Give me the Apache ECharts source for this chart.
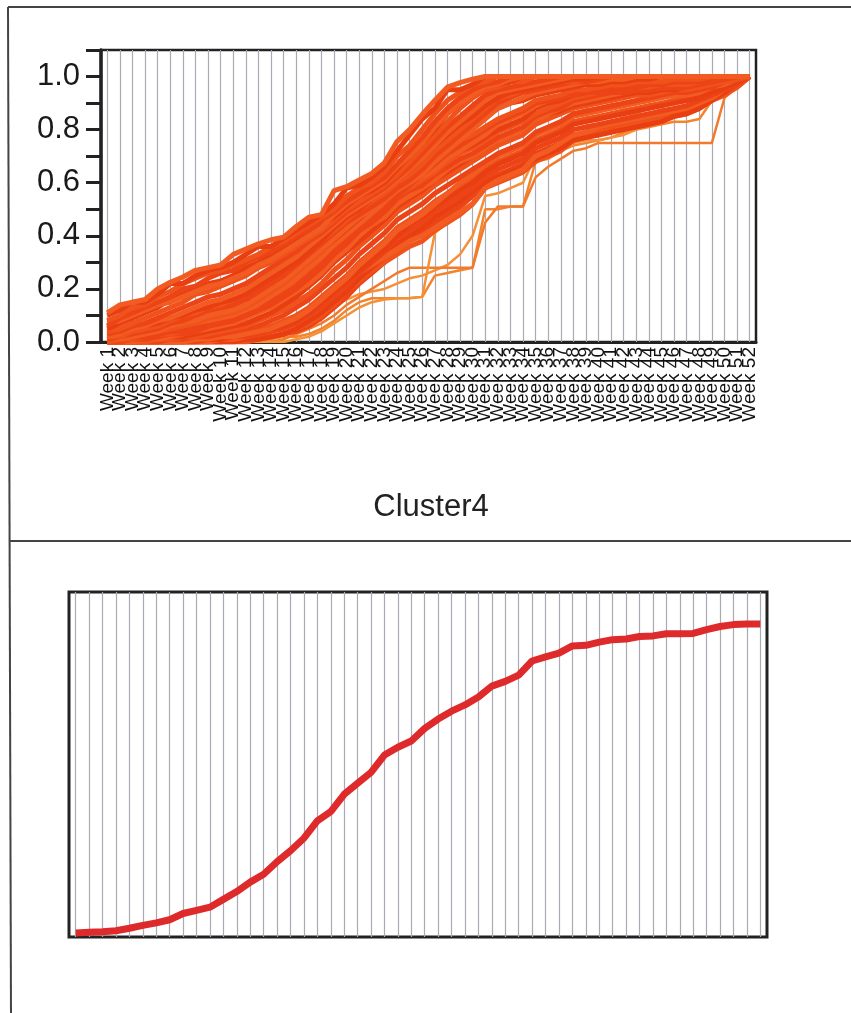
<!DOCTYPE html>
<html>
<head>
<meta charset="utf-8">
<title>Cluster4</title>
<script src="https://cdn.jsdelivr.net/npm/echarts@6/dist/echarts.min.js"></script>
<style>
  html, body { margin: 0; padding: 0; background: #fff; }
  #chart { width: 851px; height: 1013px; }
</style>
</head>
<body>
<div id="chart"></div>
<script>
var weeks = ['Week 1','Week 2','Week 3','Week 4','Week 5','Week 6','Week 7','Week 8','Week 9','Week 10',
  'Week 11','Week 12','Week 13','Week 14','Week 15','Week 16','Week 17','Week 18','Week 19','Week 20',
  'Week 21','Week 22','Week 23','Week 24','Week 25','Week 26','Week 27','Week 28','Week 29','Week 30',
  'Week 31','Week 32','Week 33','Week 34','Week 35','Week 36','Week 37','Week 38','Week 39','Week 40',
  'Week 41','Week 42','Week 43','Week 44','Week 45','Week 46','Week 47','Week 48','Week 49','Week 50',
  'Week 51','Week 52'];

// cluster members (top panel)
var a1 = [0.11,0.14,0.15,0.16,0.20,0.225,0.245,0.27,0.28,0.29,
  0.33,0.35,0.37,0.385,0.395,0.435,0.47,0.48,0.57,0.585,
  0.61,0.635,0.675,0.755,0.80,0.857,0.91,0.96,0.977,0.99,
  1,1,1,1,1,1,1,1,1,1, 1,1,1,1,1,1,1,1,1,1, 1,1];
var a2 = [0.10,0.12,0.15,0.15,0.18,0.22,0.22,0.25,0.27,0.28,
  0.30,0.33,0.36,0.36,0.39,0.42,0.45,0.48,0.52,0.58,
  0.59,0.62,0.66,0.72,0.78,0.84,0.88,0.95,0.95,0.97,
  1,1,1,1,1,1,1,1,1,1, 1,1,1,1,1,1,1,1,1,1, 1,1];
var a3 = [0.08,0.10,0.13,0.14,0.17,0.19,0.22,0.24,0.26,0.27,
  0.29,0.31,0.33,0.36,0.38,0.41,0.44,0.47,0.50,0.55,
  0.58,0.60,0.64,0.70,0.74,0.80,0.86,0.91,0.94,0.97,
  0.98,1,1,1,1,1,1,1,1,1, 1,1,1,1,1,1,1,1,1,1, 1,1];
var a4 = [0.06,0.09,0.11,0.13,0.15,0.17,0.20,0.21,0.24,0.26,
  0.27,0.30,0.32,0.34,0.37,0.40,0.42,0.46,0.49,0.53,
  0.56,0.59,0.62,0.67,0.72,0.77,0.83,0.88,0.92,0.95,
  0.97,0.98,1,1,1,1,1,1,1,1, 1,1,1,1,1,1,1,1,1,1, 1,1];
var a5 = [0.05,0.07,0.09,0.11,0.13,0.16,0.18,0.20,0.22,0.23,
  0.25,0.28,0.30,0.33,0.35,0.38,0.41,0.44,0.47,0.51,
  0.55,0.57,0.60,0.65,0.70,0.75,0.80,0.86,0.90,0.94,
  0.96,0.97,0.98,1,1,1,1,1,1,1, 1,1,1,1,1,1,1,1,1,1, 1,1];
var a6 = [0.04,0.05,0.07,0.09,0.11,0.13,0.15,0.18,0.19,0.21,
  0.23,0.25,0.28,0.30,0.33,0.36,0.39,0.42,0.46,0.50,
  0.53,0.56,0.59,0.63,0.68,0.73,0.78,0.83,0.88,0.92,
  0.95,0.96,0.98,0.98,1,1,1,1,1,1, 1,1,1,1,1,1,1,1,1,1, 1,1];
var b1 = [0.03,0.04,0.06,0.07,0.09,0.11,0.13,0.15,0.17,0.18,
  0.20,0.22,0.25,0.28,0.31,0.34,0.38,0.41,0.45,0.49,
  0.52,0.55,0.58,0.62,0.66,0.71,0.76,0.81,0.85,0.89,
  0.93,0.95,0.96,0.97,0.98,0.99,1,1,1,1, 1,1,1,1,1,1,1,1,1,1, 1,1];
var b2 = [0.02,0.03,0.05,0.06,0.08,0.09,0.11,0.13,0.15,0.16,
  0.18,0.20,0.23,0.26,0.29,0.32,0.36,0.40,0.44,0.48,
  0.51,0.54,0.57,0.61,0.65,0.69,0.74,0.79,0.83,0.87,
  0.91,0.94,0.95,0.96,0.97,0.98,0.99,1,1,1, 1,1,1,1,1,1,1,1,1,1, 1,1];
var b3 = [0.02,0.02,0.04,0.05,0.06,0.08,0.10,0.11,0.13,0.14,
  0.16,0.18,0.21,0.24,0.27,0.30,0.34,0.38,0.42,0.46,
  0.50,0.53,0.56,0.60,0.63,0.67,0.72,0.76,0.80,0.84,
  0.88,0.92,0.93,0.95,0.96,0.97,0.98,0.98,0.99,1, 1,1,1,1,1,1,1,1,1,1, 1,1];
var b4 = [0.01,0.02,0.03,0.04,0.05,0.07,0.08,0.10,0.12,0.13,
  0.14,0.16,0.19,0.22,0.25,0.29,0.33,0.37,0.41,0.45,
  0.48,0.51,0.54,0.58,0.61,0.65,0.70,0.74,0.78,0.82,
  0.86,0.90,0.92,0.94,0.95,0.96,0.97,0.98,0.98,0.99, 1,1,1,1,1,1,1,1,1,1, 1,1];
var b5 = [0.01,0.01,0.02,0.03,0.04,0.06,0.07,0.08,0.10,0.11,
  0.12,0.14,0.17,0.20,0.23,0.27,0.31,0.35,0.39,0.43,
  0.47,0.50,0.53,0.57,0.60,0.63,0.68,0.72,0.76,0.80,
  0.84,0.88,0.90,0.92,0.94,0.95,0.96,0.97,0.98,0.98, 0.99,0.99,1,1,1,1,1,1,1,1, 1,1];
var c1 = [0.01,0.01,0.02,0.02,0.03,0.04,0.05,0.06,0.08,0.09,
  0.10,0.12,0.15,0.18,0.21,0.25,0.29,0.33,0.38,0.41,
  0.46,0.49,0.52,0.57,0.60,0.62,0.66,0.69,0.72,0.74,
  0.77,0.80,0.82,0.84,0.88,0.90,0.91,0.93,0.94,0.95,
  0.95,0.96,0.96,0.97,0.97,0.98,0.98,0.99,0.99,1, 1,1];
var c2 = [0,0.01,0.01,0.02,0.03,0.03,0.04,0.05,0.07,0.08,
  0.09,0.11,0.13,0.16,0.19,0.22,0.26,0.30,0.35,0.39,
  0.43,0.47,0.51,0.55,0.58,0.61,0.64,0.68,0.71,0.73,
  0.76,0.79,0.81,0.83,0.86,0.88,0.90,0.92,0.93,0.94,
  0.95,0.95,0.96,0.96,0.97,0.97,0.97,0.98,0.99,1, 1,1];
var c3 = [0.02,0.02,0.03,0.03,0.04,0.05,0.06,0.07,0.09,0.10,
  0.11,0.13,0.16,0.19,0.22,0.26,0.30,0.34,0.39,0.43,
  0.48,0.51,0.55,0.60,0.63,0.66,0.70,0.73,0.76,0.78,
  0.81,0.84,0.86,0.88,0.91,0.92,0.93,0.95,0.95,0.96,
  0.97,0.97,0.98,0.98,0.98,0.99,0.99,0.99,1,1, 1,1];
var c4 = [0,0,0.01,0.01,0.02,0.03,0.03,0.04,0.06,0.07,
  0.08,0.10,0.12,0.14,0.17,0.20,0.24,0.28,0.33,0.37,
  0.42,0.45,0.49,0.54,0.57,0.59,0.63,0.66,0.69,0.71,
  0.74,0.77,0.79,0.81,0.85,0.87,0.88,0.91,0.92,0.93,
  0.94,0.94,0.95,0.95,0.96,0.96,0.96,0.97,0.98,0.99, 1,1];
var c5 = [0.01,0.02,0.02,0.03,0.04,0.05,0.06,0.07,0.08,0.09,
  0.10,0.12,0.14,0.17,0.20,0.24,0.28,0.32,0.36,0.40,
  0.44,0.48,0.52,0.56,0.59,0.62,0.65,0.69,0.72,0.75,
  0.78,0.82,0.84,0.86,0.89,0.91,0.92,0.94,0.94,0.95,
  0.96,0.96,0.97,0.97,0.98,0.98,0.98,0.99,0.99,1, 1,1];
var c6 = [0,0,0,0.01,0.01,0.02,0.03,0.04,0.05,0.06,
  0.07,0.09,0.11,0.13,0.16,0.19,0.22,0.26,0.31,0.35,
  0.40,0.44,0.47,0.52,0.55,0.58,0.61,0.65,0.68,0.70,
  0.73,0.76,0.78,0.80,0.84,0.86,0.88,0.90,0.91,0.92,
  0.93,0.94,0.95,0.95,0.96,0.96,0.96,0.97,0.98,0.99, 1,1];
var d1 = [0,0,0,0,0.01,0.01,0.02,0.02,0.03,0.04,
  0.05,0.06,0.08,0.10,0.12,0.15,0.18,0.22,0.27,0.31,
  0.36,0.40,0.44,0.49,0.52,0.55,0.59,0.62,0.65,0.68,
  0.71,0.74,0.76,0.78,0.82,0.84,0.86,0.88,0.89,0.90,
  0.91,0.92,0.93,0.93,0.94,0.95,0.95,0.96,0.97,0.98, 0.99,1];
var d2 = [0,0,0,0,0,0.01,0.01,0.02,0.02,0.03,
  0.04,0.05,0.06,0.08,0.10,0.13,0.16,0.20,0.24,0.28,
  0.33,0.37,0.41,0.46,0.49,0.52,0.56,0.59,0.62,0.65,
  0.68,0.71,0.73,0.75,0.79,0.81,0.83,0.86,0.87,0.88,
  0.89,0.90,0.91,0.92,0.93,0.94,0.94,0.95,0.96,0.98, 0.99,1];
var d3 = [0,0,0,0,0,0,0.01,0.01,0.02,0.02,
  0.03,0.04,0.05,0.06,0.08,0.10,0.13,0.17,0.21,0.25,
  0.30,0.34,0.38,0.43,0.46,0.49,0.53,0.56,0.59,0.62,
  0.65,0.68,0.70,0.72,0.76,0.78,0.80,0.83,0.84,0.85,
  0.86,0.87,0.88,0.89,0.90,0.91,0.92,0.93,0.95,0.97, 0.98,1];
var d4 = [0,0,0,0,0,0,0,0,0.01,0.01,
  0.02,0.02,0.03,0.04,0.05,0.07,0.10,0.13,0.17,0.21,
  0.26,0.30,0.34,0.39,0.42,0.45,0.49,0.52,0.55,0.58,
  0.62,0.65,0.67,0.69,0.73,0.75,0.77,0.80,0.81,0.82,
  0.83,0.84,0.85,0.86,0.87,0.88,0.89,0.91,0.93,0.95, 0.97,1];
var d5 = [0,0,0,0,0,0,0,0,0,0,
  0.01,0.01,0.02,0.02,0.03,0.04,0.06,0.09,0.13,0.17,
  0.22,0.26,0.30,0.35,0.38,0.41,0.45,0.48,0.51,0.55,
  0.60,0.63,0.65,0.67,0.71,0.73,0.75,0.78,0.79,0.80,
  0.81,0.82,0.83,0.84,0.85,0.86,0.87,0.89,0.92,0.94, 0.96,1];
var f1 = [0.02,0.03,0.04,0.05,0.06,0.07,0.09,0.10,0.11,0.12,
  0.14,0.16,0.19,0.22,0.25,0.28,0.32,0.36,0.41,0.45,
  0.49,0.52,0.56,0.61,0.64,0.68,0.72,0.76,0.79,0.82,
  0.85,0.88,0.90,0.91,0.93,0.94,0.95,0.96,0.97,0.97,
  0.98,0.98,0.99,0.99,1,1,1,1,1,1, 1,1];
var f2 = [0,0,0.01,0.01,0.01,0.02,0.02,0.03,0.04,0.05,
  0.06,0.07,0.09,0.11,0.14,0.17,0.21,0.25,0.30,0.34,
  0.38,0.42,0.46,0.51,0.54,0.57,0.61,0.64,0.67,0.70,
  0.73,0.76,0.78,0.80,0.84,0.86,0.87,0.89,0.90,0.91,
  0.92,0.93,0.94,0.94,0.95,0.95,0.96,0.97,0.98,0.99, 1,1];
var f3 = [0,0,0,0,0,0,0,0,0,0,
  0,0.01,0.01,0.02,0.03,0.05,0.08,0.11,0.15,0.19,
  0.24,0.28,0.32,0.37,0.40,0.43,0.47,0.50,0.53,0.57,
  0.60,0.62,0.64,0.66,0.69,0.71,0.73,0.76,0.77,0.78,
  0.79,0.80,0.81,0.82,0.83,0.85,0.86,0.88,0.91,0.94, 0.97,1];
var f4 = [0.07,0.08,0.10,0.12,0.14,0.15,0.17,0.19,0.21,0.22,
  0.24,0.26,0.29,0.31,0.34,0.37,0.40,0.43,0.48,0.52,
  0.55,0.58,0.61,0.66,0.70,0.75,0.81,0.86,0.90,0.93,
  0.96,0.97,0.99,1,1,1,1,1,1,1, 1,1,1,1,1,1,1,1,1,1, 1,1];
var f5 = [0.03,0.04,0.05,0.06,0.07,0.09,0.10,0.12,0.13,0.15,
  0.16,0.18,0.21,0.24,0.27,0.30,0.34,0.38,0.43,0.47,
  0.50,0.54,0.57,0.62,0.65,0.69,0.74,0.78,0.82,0.85,
  0.89,0.92,0.94,0.95,0.96,0.97,0.98,0.99,0.99,1, 1,1,1,1,1,1,1,1,1,1, 1,1];
var f6 = [0,0,0,0,0,0,0,0.01,0.01,0.02,
  0.02,0.03,0.04,0.05,0.07,0.09,0.12,0.16,0.20,0.24,
  0.29,0.33,0.37,0.42,0.45,0.48,0.52,0.56,0.60,0.63,
  0.67,0.70,0.72,0.74,0.78,0.80,0.82,0.85,0.86,0.87,
  0.88,0.89,0.90,0.91,0.92,0.93,0.93,0.94,0.96,0.97, 0.99,1];
var g1 = [0,0,0,0,0,0,0,0,0,0.01,
  0.01,0.02,0.03,0.04,0.06,0.08,0.11,0.14,0.18,0.22,
  0.26,0.29,0.32,0.35,0.38,0.40,0.43,0.46,0.49,0.52,
  0.58,0.61,0.63,0.65,0.70,0.72,0.75,0.78,0.79,0.81,
  0.82,0.83,0.84,0.85,0.86,0.87,0.88,0.90,0.92,0.95, 0.97,1];
var g2 = [0,0,0,0,0,0,0,0.01,0.01,0.01,
  0.02,0.03,0.04,0.05,0.06,0.08,0.11,0.15,0.19,0.23,
  0.27,0.31,0.35,0.40,0.44,0.47,0.51,0.54,0.57,0.60,
  0.64,0.67,0.69,0.71,0.75,0.77,0.79,0.82,0.83,0.84,
  0.85,0.86,0.87,0.88,0.89,0.90,0.91,0.92,0.94,0.96, 0.98,1];
var g3 = [0.01,0.01,0.02,0.02,0.03,0.04,0.04,0.05,0.06,0.07,
  0.08,0.10,0.12,0.15,0.18,0.21,0.25,0.29,0.34,0.38,
  0.42,0.46,0.50,0.55,0.59,0.63,0.67,0.71,0.74,0.77,
  0.80,0.83,0.85,0.87,0.90,0.91,0.92,0.93,0.94,0.94,
  0.95,0.95,0.96,0.97,0.97,0.98,0.98,0.98,0.99,1, 1,1];
var g4 = [0,0,0,0,0,0,0,0,0,0,
  0,0,0.01,0.02,0.03,0.05,0.07,0.10,0.14,0.19,
  0.23,0.27,0.30,0.33,0.36,0.38,0.42,0.45,0.48,0.52,
  0.58,0.60,0.62,0.64,0.68,0.70,0.72,0.76,0.78,0.79,
  0.80,0.81,0.82,0.83,0.84,0.85,0.86,0.88,0.91,0.93, 0.96,1];
// sparse low members drawn in lighter orange
var e1 = [0,0,0,0,0,0,0,0,0,0,
  0,0,0,0.01,0.02,0.02,0.03,0.05,0.08,0.12,
  0.15,0.165,0.165,0.165,0.165,0.17,0.25,0.26,0.27,0.28,
  0.50,0.50,0.51,0.51,0.68,0.69,0.72,0.74,0.75,0.76,
  0.77,0.79,0.80,0.81,0.82,0.83,0.83,0.84,0.91,0.93, 0.96,1];
var e2 = [0,0,0,0,0,0,0,0,0,0,
  0,0,0.01,0.02,0.03,0.05,0.08,0.11,0.14,0.16,
  0.18,0.19,0.20,0.22,0.24,0.25,0.27,0.29,0.33,0.40,
  0.55,0.56,0.58,0.60,0.70,0.72,0.73,0.75,0.76,0.76,
  0.77,0.78,0.80,0.82,0.84,0.86,0.88,0.90,0.93,0.96, 0.98,1];
var e3 = [0,0,0,0,0,0,0,0,0,0,
  0,0,0,0,0.01,0.03,0.05,0.07,0.10,0.14,
  0.17,0.20,0.23,0.26,0.28,0.28,0.28,0.28,0.28,0.28,
  0.45,0.51,0.51,0.51,0.62,0.66,0.69,0.72,0.73,0.75,
  0.75,0.75,0.75,0.75,0.75,0.75,0.75,0.75,0.75,0.92, 0.96,1];
var e4 = [0,0,0,0,0,0,0,0,0,0,
  0,0,0,0,0,0.01,0.02,0.04,0.07,0.10,
  0.13,0.15,0.16,0.165,0.166,0.17,0.41,0.45,0.50,0.55,
  0.60,0.62,0.64,0.66,0.70,0.72,0.74,0.76,0.78,0.80,
  0.82,0.84,0.86,0.88,0.90,0.92,0.94,0.96,0.97,0.98, 0.99,1];

// cluster mean (bottom panel)
var meanLine = [0.013,0.015,0.017,0.02,0.028,0.037,0.045,0.055,0.075,0.085,
  0.095,0.12,0.145,0.175,0.2,0.24,0.275,0.315,0.37,0.4,
  0.455,0.49,0.525,0.58,0.605,0.625,0.665,0.695,0.72,0.74,
  0.765,0.80,0.815,0.835,0.88,0.893,0.905,0.928,0.93,0.94,
  0.948,0.95,0.958,0.96,0.967,0.967,0.968,0.98,0.99,0.996, 0.998,0.998];

var strays = [e1, e2, e3, e4];
var members = [d5, g4, f3, g1, d4, d3, g2, f6, d2, d1, f2, c6, c4, c2, c1, c5, g3, c3, f1, b5, b4, b3, f5, b2, b1, a6, a5, f4, a4, a3, a2, a1];
var memberColors = ['#ec4416', '#f0521c', '#e83e12', '#f25c22'];
var strayColors = ['#f4832e', '#f68f38', '#f37a2a', '#f59034'];

var chart = echarts.init(document.getElementById('chart'));
var font = 'Liberation Sans, Arial, Helvetica, sans-serif';

var series = [];
strays.forEach(function (d, i) {
  series.push({
    type: 'line', xAxisIndex: 0, yAxisIndex: 0, data: d,
    symbol: 'none', silent: true,
    lineStyle: { width: 2.5, color: strayColors[i] }
  });
});
members.forEach(function (d, i) {
  series.push({
    type: 'line', xAxisIndex: 0, yAxisIndex: 0, data: d,
    symbol: 'none', silent: true,
    lineStyle: { width: 5, color: memberColors[i % memberColors.length] }
  });
});
series.push({
  type: 'line', xAxisIndex: 1, yAxisIndex: 1, data: meanLine,
  symbol: 'none', silent: true,
  lineStyle: { width: 7, color: '#de2a2b' }
});

chart.setOption({
  animation: false,
  grid: [
    { left: 101, top: 50, width: 655, height: 292, show: true, borderColor: '#222', borderWidth: 2.5, outerBoundsMode: 'none' },
    { left: 69, top: 592, width: 698, height: 345, show: true, borderColor: '#222', borderWidth: 3, outerBoundsMode: 'none' }
  ],
  xAxis: [
    {
      type: 'category', gridIndex: 0, data: weeks, boundaryGap: true,
      axisLine: { lineStyle: { color: '#222', width: 3 } },
      axisTick: { show: true, inside: true, length: 292, alignWithLabel: true, interval: 0,
        lineStyle: { color: '#aaaab4', width: 1.2 } },
      axisLabel: { interval: 0, rotate: 90, margin: 5, fontSize: 19, color: '#111', fontFamily: font },
      splitLine: { show: false }
    },
    {
      type: 'category', gridIndex: 1, data: weeks, boundaryGap: true,
      axisLine: { show: false },
      axisTick: { show: true, inside: true, length: 345, alignWithLabel: true, interval: 0,
        lineStyle: { color: '#aaaab4', width: 1.2 } },
      axisLabel: { show: false },
      splitLine: { show: false }
    }
  ],
  yAxis: [
    {
      type: 'value', gridIndex: 0, min: 0, max: 1.1, interval: 0.1,
      axisLine: { show: true, lineStyle: { color: '#222', width: 3.5 } },
      axisTick: { show: true, length: 15, lineStyle: { color: '#222', width: 3 } },
      axisLabel: {
        margin: 21, fontSize: 31, color: '#1a1a1a', fontFamily: font,
        formatter: function (v) {
          var k = Math.round(v * 10);
          return (k % 2 === 0 && k <= 10) ? (k / 10).toFixed(1) : '';
        }
      },
      splitLine: { show: false }
    },
    {
      type: 'value', gridIndex: 1, min: 0, max: 1.1, show: false,
      splitLine: { show: false }
    }
  ],
  graphic: [
    { type: 'line', shape: { x1: 8, y1: 7, x2: 851, y2: 7 }, style: { stroke: '#444', lineWidth: 2 } },
    { type: 'line', shape: { x1: 8, y1: 7, x2: 11, y2: 1013 }, style: { stroke: '#444', lineWidth: 2 } },
    { type: 'line', shape: { x1: 9, y1: 541, x2: 851, y2: 541 }, style: { stroke: '#444', lineWidth: 2 } },
    { type: 'text', x: 431, y: 507,
      style: { text: 'Cluster4', x: 0, y: 0, textAlign: 'center', textVerticalAlign: 'middle',
        font: '31px ' + font, fill: '#222' } }
  ],
  series: series
});
</script>
</body>
</html>
